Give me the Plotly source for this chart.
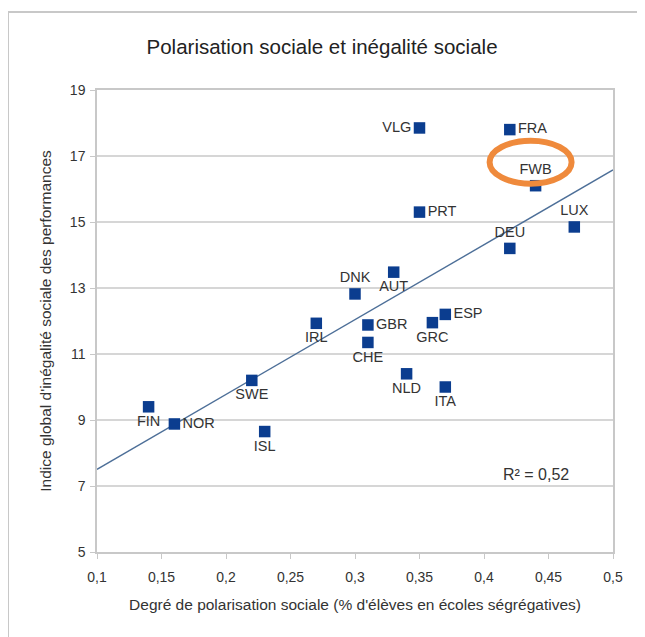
import numpy as np
import plotly.graph_objects as go

countries = ["VLG", "FRA", "FWB", "PRT", "DEU", "LUX", "AUT", "DNK", "ESP", "GRC",
             "GBR", "CHE", "NLD", "ITA", "IRL", "SWE", "FIN", "NOR", "ISL"]
polarisation = [0.35, 0.42, 0.44, 0.35, 0.42, 0.47, 0.33, 0.30, 0.37, 0.36,
                0.31, 0.31, 0.34, 0.37, 0.27, 0.22, 0.14, 0.16, 0.23]
inegalite = [17.85, 17.8, 16.1, 15.3, 14.2, 14.85, 13.48, 12.82, 12.2, 11.95,
             11.88, 11.35, 10.4, 10.0, 11.93, 10.2, 9.4, 8.88, 8.65]
label_pos = ["middle left", "middle right", "top center", "middle right", "top center",
             "top center", "bottom center", "top center", "middle right", "bottom center",
             "middle right", "bottom center", "bottom center", "bottom center", "bottom center",
             "bottom center", "bottom center", "middle right", "bottom center"]

x_ticks = [0.1, 0.15, 0.2, 0.25, 0.3, 0.35, 0.4, 0.45, 0.5]
y_ticks = [5, 7, 9, 11, 13, 15, 17, 19]
r2_text = "R² = 0,52"

xa = np.array(polarisation)
ya = np.array(inegalite)
slope, intercept = np.polyfit(xa, ya, 1)
trend_x = np.array([x_ticks[0], x_ticks[-1]])
trend_y = slope * trend_x + intercept

FONT = "Liberation Sans, Arial, sans-serif"

fig = go.Figure()
fig.add_trace(go.Scatter(
    x=trend_x, y=trend_y, mode="lines",
    line=dict(color="#4d6f98", width=1.4), hoverinfo="skip", showlegend=False))
fig.add_trace(go.Scatter(
    x=polarisation, y=inegalite, mode="markers+text",
    text=countries, textposition=label_pos,
    textfont=dict(family=FONT, size=14.5, color="#333333"),
    marker=dict(symbol="square", size=11.5, color="#0b3d8f"),
    showlegend=False))

fwb_i = countries.index("FWB")
shapes = [
    # outer chart frame (left and top borders)
    dict(type="line", xref="paper", yref="paper", x0=-0.1725, x1=-0.1725, y0=-0.2, y1=1.1688,
         line=dict(color="#c8c8c8", width=2)),
    dict(type="line", xref="paper", yref="paper", x0=-0.1725, x1=1.1, y0=1.1688, y1=1.1688,
         line=dict(color="#c8c8c8", width=2)),
    # highlight ellipse around FWB label
    dict(type="circle", xref="x", yref="y", xsizemode="pixel", ysizemode="pixel",
         xanchor=polarisation[fwb_i], yanchor=inegalite[fwb_i],
         x0=-46, x1=36, y0=2, y1=45,
         line=dict(color="#ef8a3c", width=6)),
]

fig.update_layout(
    width=637, height=629,
    margin=dict(l=89, r=32, t=82, b=85),
    paper_bgcolor="white", plot_bgcolor="white",
    separators=", ",
    font=dict(family=FONT, color="#333333", size=12),
    title=dict(text="Polarisation sociale et inégalité sociale", x=0.493, xanchor="center",
               y=0.938, yanchor="middle",
               font=dict(size=20.5, color="#222222")),
    xaxis=dict(range=[0.1, 0.5], tickvals=x_ticks, tickformat=".2~f",
               showgrid=False, zeroline=False,
               showline=True, linecolor="#c8c8c8", linewidth=1.5, mirror=True,
               ticks="outside", ticklen=5, tickcolor="#c8c8c8",
               ticklabelstandoff=6,
               tickfont=dict(size=14, color="#333333"),
               title=dict(text="Degré de polarisation sociale (% d'élèves en écoles ségrégatives)",
                          font=dict(size=15.5, color="#333333"), standoff=16)),
    yaxis=dict(range=[5, 19], tickvals=y_ticks,
               showgrid=True, gridcolor="#d6d6d6", gridwidth=1.5, zeroline=False,
               showline=True, linecolor="#c8c8c8", linewidth=1.5, mirror=True,
               ticks="outside", ticklen=5, tickcolor="#c8c8c8",
               ticklabelstandoff=2,
               tickfont=dict(size=14, color="#333333"),
               title=dict(text="Indice global d'inégalité sociale des performances",
                          font=dict(size=15.5, color="#333333"), standoff=14)),
    shapes=shapes,
    annotations=[dict(text=r2_text, xref="x", yref="y", x=0.44, y=7.36,
                      showarrow=False, font=dict(size=16, color="#333333"))],
)

fig.write_html("out.html")
